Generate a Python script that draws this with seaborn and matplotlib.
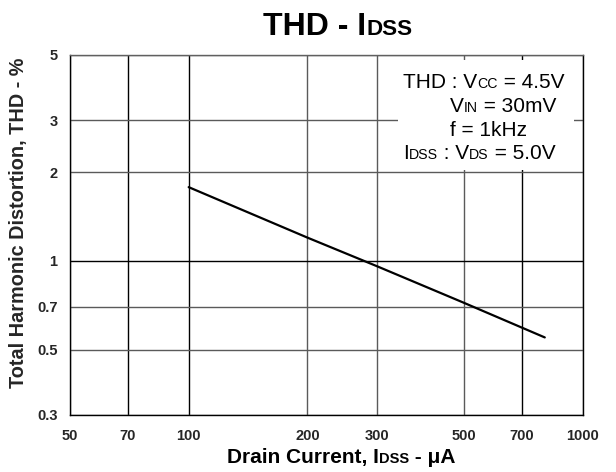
import numpy as np
import pandas as pd
import seaborn as sns
import matplotlib.pyplot as plt
import matplotlib.ticker as ticker
from matplotlib.offsetbox import TextArea, HPacker, AnnotationBbox
from matplotlib.patches import Rectangle

# data
drain_current_ua = [100, 200, 300, 500, 800]
thd_percent = [1.78, 1.20, 0.96, 0.72, 0.55]

x_ticks = [50, 70, 100, 200, 300, 500, 700, 1000]
y_ticks = [0.3, 0.5, 0.7, 1, 2, 3, 5]
x_tick_labels = ["50", "70", "100", "200", "300", "500", "700", "1000"]
y_tick_labels = ["0.3", "0.5", "0.7", "1", "2", "3", "5"]

# text pieces: (string, is_small)
title_parts = [("THD - I", False), ("DSS", True)]
xlabel_parts = [("Drain Current, I", False), ("DSS", True), (" - μA", False)]
note_lines = [
    [("THD : V", False), ("CC", True), (" = 4.5V", False)],
    [("V", False), ("IN", True), (" = 30mV", False)],
    [("f = 1kHz", False)],
    [("I", False), ("DSS", True), (" : V", False), ("DS", True), (" = 5.0V", False)],
]
# left edge of each note line, figure fraction (x, y of bottom)
note_pos = [(0.6542, 0.805), (0.7305, 0.754), (0.7305, 0.703), (0.6542, 0.654)]

sns.set_style("white")
plt.rcParams["font.family"] = ["Liberation Sans", "DejaVu Sans"]

df = pd.DataFrame({"idss": drain_current_ua, "thd": thd_percent})

fig = plt.figure(figsize=(6.16, 4.72), dpi=100)
ax = fig.add_axes([0.1136, 0.1208, 0.8328, 0.7627])

sns.lineplot(data=df, x="idss", y="thd", color="black", linewidth=1.6, ax=ax, zorder=3)

ax.set_xscale("log")
ax.set_yscale("log")
ax.set_xlim(50, 1000)
ax.set_ylim(0.3, 5)
ax.xaxis.set_major_locator(ticker.FixedLocator(x_ticks))
ax.yaxis.set_major_locator(ticker.FixedLocator(y_ticks))
ax.xaxis.set_minor_locator(ticker.NullLocator())
ax.yaxis.set_minor_locator(ticker.NullLocator())
ax.set_xticklabels(x_tick_labels, fontweight="bold", fontsize=10.5)
ax.set_yticklabels(y_tick_labels, fontweight="bold", fontsize=10.5)
ax.tick_params(axis="both", direction="out", length=3, width=1, color="black", pad=6)
ax.tick_params(axis="x", pad=7)

ax.grid(True, which="major", color="#5a5a5a", linewidth=1.0)
for gl, v in zip(ax.get_xgridlines(), x_ticks):
    if v in (70, 100, 700):
        gl.set_color("black")
for gl, v in zip(ax.get_ygridlines(), y_ticks):
    if v == 1:
        gl.set_color("black")

for side in ["left", "bottom", "right"]:
    ax.spines[side].set_color("black")
    ax.spines[side].set_linewidth(1.0)
ax.spines["top"].set_color("#606060")
ax.spines["top"].set_linewidth(1.0)

ax.set_xlabel("")
ax.set_ylabel("Total Harmonic Distortion, THD - %", fontweight="bold", fontsize=14.3)
ax.yaxis.set_label_coords(-0.082, 0.535)


def packed(parts, size, weight="normal", ratio=0.68):
    kids = []
    for s, small in parts:
        fs = size * ratio if small else size
        kids.append(TextArea(s, textprops=dict(fontsize=fs, fontweight=weight, color="black")))
    return HPacker(children=kids, align="baseline", pad=0, sep=0)


# title
title_box = AnnotationBbox(packed(title_parts, 23, "bold", 0.7), (0.548, 0.942),
                           xycoords="figure fraction", box_alignment=(0.5, 0.5),
                           frameon=False, pad=0)
fig.add_artist(title_box)

# x label
xlab_box = AnnotationBbox(packed(xlabel_parts, 15, "bold", 0.7), (0.5536, 0.03),
                          xycoords="figure fraction", box_alignment=(0.5, 0.5),
                          frameon=False, pad=0)
fig.add_artist(xlab_box)

# condition note with white background
ax.add_patch(Rectangle((0.639, 0.68), 0.343, 0.306, transform=ax.transAxes,
                       facecolor="white", edgecolor="none", zorder=1.5))
for parts, (px, py) in zip(note_lines, note_pos):
    nb = AnnotationBbox(packed(parts, 15), (px, py), xycoords="figure fraction",
                        box_alignment=(0, 0), frameon=False, pad=0)
    nb.set_zorder(4)
    fig.add_artist(nb)

fig.savefig("out.png", dpi=100)
